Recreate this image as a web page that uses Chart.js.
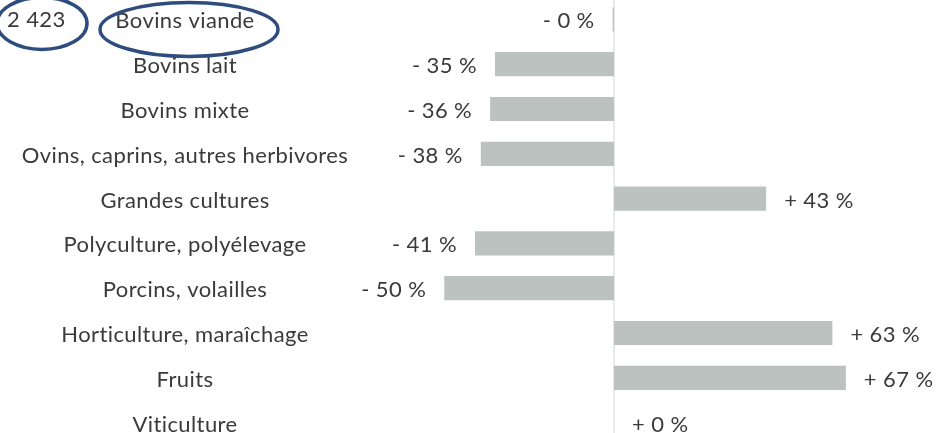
<!DOCTYPE html>
<html>
<head>
<meta charset="utf-8">
<script src="https://cdn.jsdelivr.net/npm/chart.js@4/dist/chart.umd.min.js"></script>
<style>
  html, body { margin: 0; padding: 0; background: #fff; overflow: hidden; }
  #wrap { position: absolute; left: 0; top: -3px; width: 940px; height: 448px; }
</style>
</head>
<body>
<div id="wrap"><canvas id="chart"></canvas></div>
<script>
// Categories and values
const categories = [
  'Bovins viande', 'Bovins lait', 'Bovins mixte', 'Ovins, caprins, autres herbivores',
  'Grandes cultures', 'Polyculture, polyélevage', 'Porcins, volailles',
  'Horticulture, maraîchage', 'Fruits', 'Viticulture'
];
const changes = [-0.4, -34.5, -35.9, -38.6, 44.1, -40.3, -49.2, 63.3, 67.2, 0];
const valueLabels = ['- 0 %', '- 35 %', '- 36 %', '- 38 %', '+ 43 %', '- 41 %', '- 50 %', '+ 63 %', '+ 67 %', '+ 0 %'];
const countLabel = '2 423';

const FONT = '22px Lato';
const TEXT = '#3a3a3a';

// --- labels, zero line and the two hand-drawn rings ---
const decorations = {
  id: 'decorations',
  beforeDatasetsDraw(chart) {
    const ctx = chart.ctx;
    const x0 = chart.scales.x.getPixelForValue(0);
    ctx.save();
    ctx.strokeStyle = '#e2e4e3';
    ctx.lineWidth = 1.5;
    ctx.beginPath();
    ctx.moveTo(x0, 0);
    ctx.lineTo(x0, chart.height);
    ctx.stroke();
    ctx.restore();
  },
  afterDatasetsDraw(chart) {
    const ctx = chart.ctx;
    const xs = chart.scales.x, ys = chart.scales.y;
    ctx.save();
    ctx.font = FONT;
    ctx.letterSpacing = '0.4px';
    ctx.fillStyle = TEXT;
    ctx.textBaseline = 'middle';
    categories.forEach((c, i) => {
      const y = ys.getPixelForValue(i) + 2;
      ctx.textAlign = 'center';
      ctx.fillText(c, 185, y);
      const end = xs.getPixelForValue(changes[i]);
      if (changes[i] < 0) {
        ctx.textAlign = 'right';
        ctx.fillText(valueLabels[i], end - 18, y);
      } else {
        ctx.textAlign = 'left';
        ctx.fillText(valueLabels[i], end + 18, y);
      }
    });
    const y0 = ys.getPixelForValue(0);
    ctx.textAlign = 'left';
    ctx.fillText(countLabel, 7, y0 + 1);

    ctx.strokeStyle = '#2f4c7e';
    ctx.lineWidth = 3.5;
    ctx.beginPath();
    ctx.ellipse(42, y0 + 4, 45, 26, 0, 0, Math.PI * 2);
    ctx.stroke();
    ctx.beginPath();
    ctx.ellipse(189, y0 + 10, 89, 27, 0, 0, Math.PI * 2);
    ctx.stroke();
    ctx.restore();
  }
};

new Chart(document.getElementById('chart'), {
  type: 'bar',
  data: {
    labels: categories,
    datasets: [{
      data: changes,
      backgroundColor: '#bcc2c0',
      borderWidth: 0,
      barPercentage: 0.54,
      categoryPercentage: 1
    }]
  },
  options: {
    indexAxis: 'y',
    responsive: true,
    maintainAspectRatio: false,
    animation: false,
    layout: { padding: { left: 370, right: 0, top: 0, bottom: 0 } },
    plugins: { legend: { display: false }, tooltip: { enabled: false } },
    scales: {
      x: { display: false, min: -70.72, max: 94.49 },
      y: { display: false }
    }
  },
  plugins: [decorations]
});
</script>
</body>
</html>
